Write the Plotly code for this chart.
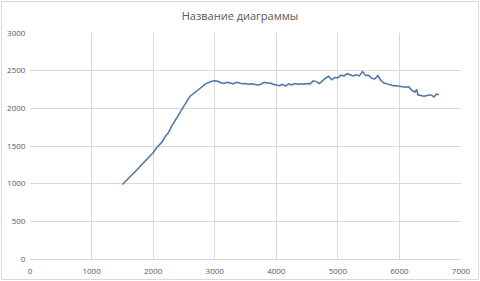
import plotly.graph_objects as go

x_vals = [1500, 1550, 1600, 1650, 1700, 1750, 1800, 1850, 1900, 1950,
          2000, 2050, 2100, 2150, 2200, 2250, 2300, 2350, 2400, 2450,
          2500, 2550, 2600, 2650, 2700, 2750, 2800, 2850, 2900, 2950,
          3000, 3050, 3100, 3150, 3200, 3250, 3300, 3350, 3400, 3450,
          3500, 3550, 3600, 3650, 3700, 3750, 3800, 3850, 3900, 3950,
          4000, 4050, 4100, 4150, 4200, 4250, 4300, 4350, 4400, 4450,
          4500, 4550, 4600, 4650, 4700, 4750, 4800, 4850, 4900, 4950,
          5000, 5050, 5100, 5150, 5200, 5250, 5300, 5350, 5400, 5450,
          5500, 5550, 5600, 5650, 5700, 5750, 5800, 5850, 5900, 5950,
          6000, 6050, 6100, 6150, 6200, 6250, 6280, 6300, 6350, 6400,
          6450, 6500, 6530, 6560, 6600, 6640]
y_vals = [990, 1030, 1070, 1105, 1150, 1195, 1240, 1280, 1320, 1360,
          1410, 1470, 1510, 1560, 1630, 1680, 1760, 1830, 1890, 1960,
          2030, 2100, 2160, 2190, 2220, 2255, 2290, 2325, 2345, 2360,
          2365, 2360, 2340, 2330, 2345, 2335, 2325, 2345, 2335, 2325,
          2330, 2320, 2325, 2315, 2310, 2320, 2345, 2335, 2335, 2320,
          2310, 2300, 2320, 2295, 2325, 2310, 2330, 2320, 2325, 2320,
          2330, 2325, 2365, 2355, 2330, 2370, 2400, 2425, 2380, 2410,
          2405, 2440, 2430, 2460, 2440, 2430, 2445, 2430, 2490, 2435,
          2440, 2400, 2390, 2435, 2370, 2335, 2325, 2310, 2300, 2300,
          2295, 2290, 2280, 2285, 2240, 2215, 2250, 2180, 2175, 2160,
          2170, 2180, 2170, 2150, 2190, 2180]

title_text = "Название диаграммы"
x_ticks = [0, 1000, 2000, 3000, 4000, 5000, 6000, 7000]
y_ticks = [0, 500, 1000, 1500, 2000, 2500, 3000]

W, H = 480, 281
ml, mr, mt, mb = 30, 19, 33, 22

fig = go.Figure()
fig.add_trace(go.Scatter(x=x_vals, y=y_vals, mode="lines",
                         line=dict(color="#4472C4", width=1.5),
                         showlegend=False))

grid = "#D9D9D9"
tick_font = dict(family="Open Sans, Liberation Sans, sans-serif", size=8, color="#595959")
fig.update_layout(
    width=W, height=H,
    margin=dict(l=ml, r=mr, t=mt, b=mb),
    paper_bgcolor="white", plot_bgcolor="white",
    title=dict(text=title_text, x=0.5, xanchor="center", y=1 - 16 / H, yanchor="middle",
               font=dict(family="Open Sans, Liberation Sans, sans-serif", size=11, color="#595959")),
    xaxis=dict(range=[0, 7000], tickvals=x_ticks, showgrid=True, gridcolor=grid, gridwidth=1,
               zeroline=False, showline=True, linecolor=grid, linewidth=1,
               ticks="outside", ticklen=4, tickcolor="rgba(0,0,0,0)",
               tickfont=tick_font, automargin=False),
    yaxis=dict(range=[0, 3000], tickvals=y_ticks, showgrid=True, gridcolor=grid, gridwidth=1,
               zeroline=False, showline=False,
               ticks="outside", ticklen=2, tickcolor="rgba(0,0,0,0)",
               tickfont=tick_font, automargin=False),
)
pw = W - ml - mr
ph = H - mt - mb
fig.add_shape(type="rect", xref="paper", yref="paper",
              x0=(-ml + 1.5) / pw, x1=1 + (mr - 1.5) / pw,
              y0=(-mb + 1.5) / ph, y1=1 + (mt - 1.5) / ph,
              line=dict(color=grid, width=1), layer="below")

fig.write_html("out.html")
